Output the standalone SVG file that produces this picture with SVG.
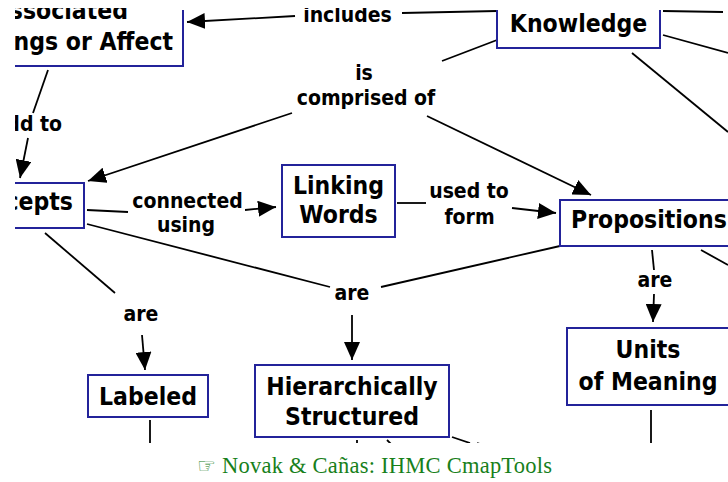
<svg xmlns="http://www.w3.org/2000/svg" width="728" height="482" viewBox="0 0 728 482">
<style>
.box{fill:#fff;stroke:#23239a;stroke-width:2}
.n{font-family:"DejaVu Sans Condensed","DejaVu Sans",sans-serif;font-stretch:condensed;font-weight:bold;font-size:24.5px;fill:#000;text-anchor:middle}
.l{font-family:"DejaVu Sans Condensed","DejaVu Sans",sans-serif;font-stretch:condensed;font-weight:bold;font-size:21px;fill:#000;text-anchor:middle}
.c{fill:none;stroke:#000;stroke-width:1.8}
.a{marker-end:url(#arr)}
.foot{font-family:"Liberation Serif","DejaVu Serif",serif;font-size:22.5px;fill:#17801b}
</style>
<defs>
<marker id="arr" viewBox="0 0 18 16" refX="18" refY="8" markerWidth="18" markerHeight="16" markerUnits="userSpaceOnUse" orient="auto">
<path d="M0,0 L18,8 L0,16 z" fill="#000"/>
</marker>
<clipPath id="clip"><rect x="15" y="8" width="713" height="435"/></clipPath>
</defs>
<rect width="728" height="482" fill="#fff"/>
<g clip-path="url(#clip)">
<g id="connectors">
<path class="c" d="M497,11 L402,13"/>
<path class="c a" d="M295,16 L187,22"/>
<path class="c" d="M48,70 L33,113"/>
<path class="c a" d="M28,138 L20,178"/>
<path class="c" d="M497,40 L442,61"/>
<path class="c a" d="M292,113 L88,181"/>
<path class="c a" d="M427,116 L591,195"/>
<path class="c" d="M87,210 L128,212"/>
<path class="c a" d="M245,210 L276,207"/>
<path class="c" d="M397,203 L426,203"/>
<path class="c a" d="M512,208 L556,213"/>
<path class="c" d="M87,224 L330,287"/>
<path class="c" d="M560,246 L381,287"/>
<path class="c a" d="M352,315 L352,360"/>
<path class="c" d="M45,233 L115,293"/>
<path class="c a" d="M142,335 L145,370"/>
<path class="c" d="M652,250 L654,270"/>
<path class="c a" d="M654,294 L653,322"/>
<path class="c" d="M701,250 L728,265"/>
<path class="c" d="M663,11 L723,12"/>
<path class="c" d="M663,35 L728,53"/>
<path class="c" d="M632,53 L728,132"/>
<path class="c" d="M150,420 L150,445"/>
<path class="c" d="M357,440 L357,445"/>
<path class="c" d="M387,440 L392,445"/>
<path class="c" d="M452,437 L470,443"/>
<path class="c" d="M477,443 L480,444"/>
<path class="c" d="M651,410 L651,445"/>
</g>
<g id="associated">
<path class="box" d="M-5,66 H183 V10"/>
<text class="n" x="128" y="18.5" style="text-anchor:end">ssociated</text>
<text class="n" x="173" y="50" style="text-anchor:end">ngs or Affect</text>
</g>
<g id="knowledge">
<path class="box" d="M497,10 V48 H660 V10"/>
<text class="n" x="578.5" y="32">Knowledge</text>
</g>
<g id="concepts">
<rect class="box" x="-5" y="183" width="89" height="45"/>
<text class="n" x="73" y="210" style="text-anchor:end">cepts</text>
</g>
<g id="linking-words">
<rect class="box" x="282" y="165" width="113" height="72"/>
<text class="n" x="338.5" y="194">Linking</text>
<text class="n" x="338.5" y="223">Words</text>
</g>
<g id="propositions">
<rect class="box" x="560" y="200" width="190" height="46"/>
<text class="n" x="571" y="228" style="text-anchor:start">Propositions</text>
</g>
<g id="hierarchically-structured">
<rect class="box" x="255" y="365" width="194" height="72"/>
<text class="n" x="352" y="395">Hierarchically</text>
<text class="n" x="352" y="425">Structured</text>
</g>
<g id="labeled">
<rect class="box" x="88" y="375" width="120" height="42"/>
<text class="n" x="148" y="405">Labeled</text>
</g>
<g id="units-of-meaning">
<rect class="box" x="567" y="328" width="162" height="77"/>
<text class="n" x="648" y="358">Units</text>
<text class="n" x="648" y="390">of Meaning</text>
</g>
<g id="linking-phrases">
<text class="l" x="347.5" y="22">includes</text>
<text class="l" x="364" y="80">is</text>
<text class="l" x="366" y="105">comprised of</text>
<text class="l" x="62" y="131" style="text-anchor:end">dd to</text>
<text class="l" x="187.5" y="208">connected</text>
<text class="l" x="186" y="232">using</text>
<text class="l" x="469" y="198">used to</text>
<text class="l" x="469.5" y="224">form</text>
<text class="l" x="352" y="300">are</text>
<text class="l" x="141" y="321">are</text>
<text class="l" x="655" y="287">are</text>
</g>
</g>
<text class="foot" x="197" y="473"><tspan font-family="DejaVu Sans" font-size="21">☞</tspan><tspan x="222" textLength="330" lengthAdjust="spacing">Novak &amp; Cañas: IHMC CmapTools</tspan></text>
</svg>
